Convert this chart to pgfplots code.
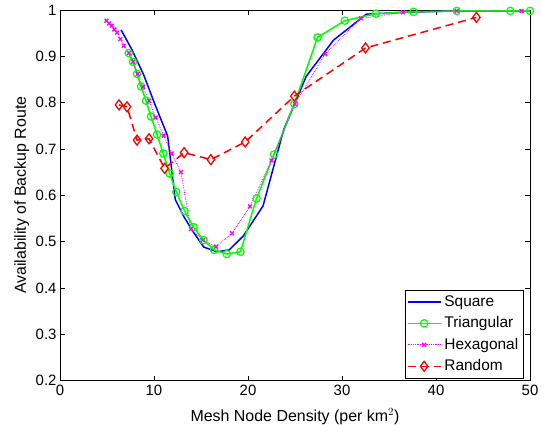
\documentclass[border=0pt]{standalone}
\usepackage{fontspec}
\setmainfont{Liberation Sans}
\usepackage{pgfplots}
\pgfplotsset{compat=1.18}
\begin{document}
\begin{tikzpicture}
\begin{axis}[
  scale only axis, width=470bp, height=370.5bp,
  xmin=0, xmax=50, ymin=0.2, ymax=1,
  xtick={0,10,20,30,40,50},
  ytick={0.2,0.3,0.4,0.5,0.6,0.7,0.8,0.9,1},
  yticklabels={0.2,0.3,0.4,0.5,0.6,0.7,0.8,0.9,1},
  tick align=inside, tick pos=both,
  major tick length=5bp,
  axis line style={line width=0.8pt},
  every tick/.style={black, line width=0.6pt},
  /pgf/number format/assume math mode=true,
  ticklabel style={font=\fontsize{15}{17}\selectfont},
  xticklabel style={yshift=-1.5bp},
  xlabel={Mesh Node Density (per km$^2$)},
  ylabel={Availability of Backup Route},
  every axis x label/.style={at={(rel axis cs:0.5,0)}, anchor=base, yshift=-41bp, font=\fontsize{16}{18}\selectfont},
  every axis y label/.style={at={(rel axis cs:0,0.5)}, anchor=base, rotate=90, yshift=34bp, font=\fontsize{16}{18}\selectfont},
  legend cell align=left,
  legend style={at={(rel axis cs:0.986,0.006)}, anchor=south east,
    font=\fontsize{15.5}{18}\selectfont, draw=black,
    inner xsep=2bp, inner ysep=1bp,
    nodes={inner sep=3bp, text height=12bp, text depth=3.5bp}},
  legend image code/.code={\draw[mark repeat=2,mark phase=2,#1] plot coordinates {(0bp,0bp) (16.5bp,0bp) (33bp,0bp)};},
]
\coordinate (sw) at (rel axis cs:0,0);
\coordinate (ne) at (rel axis cs:1,1);
\addplot[blue, line width=1.5pt] coordinates {
(6.5,0.957) (7.66,0.914) (8.9,0.860) (10.1,0.796) (11.45,0.728) (12.26,0.591)
(13.14,0.555) (14.2,0.520) (15.3,0.488) (16.7,0.478) (18.0,0.482) (19.5,0.512)
(21.6,0.577) (23.8,0.742) (26.2,0.857) (29.1,0.935) (32.6,0.991) (36.5,0.995)
(42.2,0.998) (50,0.998)};
\addlegendentry{Square}
\addplot[color={rgb,255:red,0;green,255;blue,0}, line width=1.5pt, mark=o, mark size=3.7bp, mark options={solid, line width=1.2pt}] coordinates {
(7.31,0.907) (7.77,0.888) (8.19,0.862) (8.62,0.835) (9.15,0.804) (9.68,0.770)
(10.32,0.731) (10.99,0.690) (11.66,0.647) (12.37,0.607) (13.25,0.566) (14.2,0.531)
(15.27,0.503) (16.4,0.482) (17.75,0.473) (19.2,0.478) (20.9,0.593) (22.77,0.688)
(24.93,0.797) (27.4,0.941) (30.3,0.977) (33.6,0.992) (37.6,0.996) (42.2,0.998)
(47.9,0.998) (50,0.998)};
\addlegendentry{Triangular}
\addplot[color={rgb,255:red,255;green,0;blue,255}, line width=0.8pt, densely dotted, mark=x, mark size=2.7bp, mark options={solid, line width=1.3pt}] coordinates {
(4.94,0.977) (5.22,0.971) (5.5,0.966) (5.79,0.958) (6.07,0.951) (6.42,0.937)
(6.77,0.923) (7.34,0.907) (7.77,0.888) (8.26,0.862) (8.83,0.834) (9.47,0.804)
(10.17,0.768) (11.02,0.729) (11.87,0.690) (12.86,0.650) (13.93,0.527) (15.2,0.503)
(16.6,0.489) (18.3,0.518) (20.2,0.576) (22.5,0.675) (25.0,0.797) (28.2,0.905)
(32.0,0.982) (36.5,0.995) (42.2,0.998) (49.1,0.998)};
\addlegendentry{Hexagonal}
\addplot[red, line width=1.5pt, dash pattern=on 8bp off 5bp, mark=diamond, mark size=5bp, mark options={solid, line width=1.3pt}] coordinates {
(6.28,0.795) (7.13,0.791) (8.2,0.719) (9.47,0.722) (11.13,0.658) (13.2,0.692)
(16.05,0.677) (19.7,0.715) (24.93,0.814) (32.5,0.918) (44.3,0.984)};
\addlegendentry{Random}
\end{axis}
\path (sw) ++(-60bp,-44.3bp) coordinate (bbA);
\path (ne) ++(11bp,10bp) coordinate (bbB);
\pgfresetboundingbox
\useasboundingbox (bbA) rectangle (bbB);
\end{tikzpicture}
\end{document}
